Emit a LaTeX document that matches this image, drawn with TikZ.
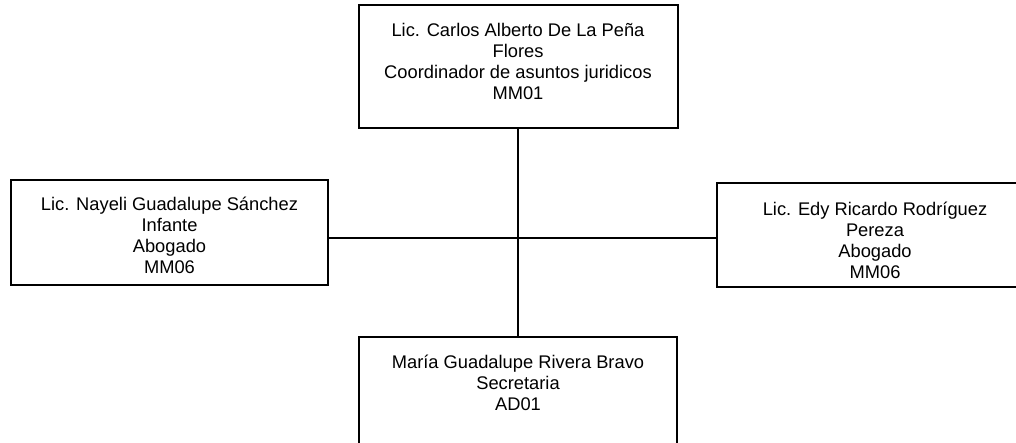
\documentclass[tikz,border=0pt]{standalone}
\usepackage{fontspec}
\setmainfont{Liberation Sans}
\usetikzlibrary{positioning}
\begin{document}
\begin{tikzpicture}[x=1pt, y=-1pt,
  puesto/.style={draw, line width=2pt, inner sep=0pt, outer sep=0pt},
  texto/.style={align=center, inner sep=0pt, font=\fontsize{18.3}{21}\selectfont},
  linea/.style={line width=2pt}]
\clip (0,0) rectangle (1016,442); % page of 1016 x 442
\node [puesto, minimum width=319, minimum height=122.5] (coord) at (518,66.25) {};
\node [puesto, minimum width=317, minimum height=105] (abog1) at (169.5,232.5) {};
\node [puesto, minimum width=316, minimum height=104] (abog2) at (875,235) {};
\node [puesto, minimum width=318, minimum height=120] (secre) at (518,397) {};
\node [texto, below=18pt of coord.north] (coord-t) {Lic. Carlos Alberto De La Peña\\Flores\\Coordinador de asuntos juridicos\\MM01};
\node [texto, below=16.7pt of abog1.north] (abog1-t) {Lic. Nayeli Guadalupe Sánchez\\Infante\\Abogado\\MM06};
\node [texto, below=18.7pt of abog2.north] (abog2-t) {Lic. Edy Ricardo Rodríguez\\Pereza\\Abogado\\MM06};
\node [texto, below=18pt of secre.north] (secre-t) {María Guadalupe Rivera Bravo\\Secretaria\\AD01};
\coordinate (cruce) at (518,238);
\draw [linea] (coord) -- (secre);
\draw [linea] (abog1.east |- cruce) -- (abog2.west |- cruce);
\end{tikzpicture}
\end{document}
